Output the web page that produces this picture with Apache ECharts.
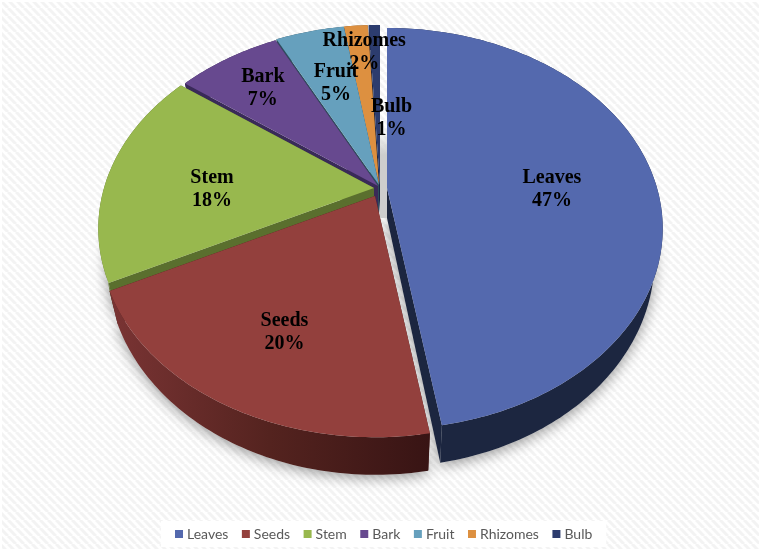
<!DOCTYPE html>
<html>
<head>
<meta charset="utf-8">
<style>
  html, body { margin: 0; padding: 0; background: #fff; }
  #main { width: 761px; height: 551px; }
</style>
<script src="https://cdn.jsdelivr.net/npm/echarts@6/dist/echarts.min.js"></script>
</head>
<body>
<div id="main"></div>
<script>
const categories = ['Leaves', 'Seeds', 'Stem', 'Bark', 'Fruit', 'Rhizomes', 'Bulb']
const seriesValues = [47.4, 20.2, 17.6, 7.4, 4.9, 1.7, 0.8]

const topColors = ['#5469ae', '#93403d', '#98b84e', '#67498f', '#66a0bd', '#dd9040', '#2c3c6e']
const cutColors = ['#1c2640', '#4a1c1c', '#5a6f2e', '#392a58', '#2f4d5c', '#7a4d1c', '#1a2444']
const wallColors = [
  ['#1c2640', '#1c2640', '#1c2640'],
  ['#7a3434', '#54231f', '#381414'],
  ['#5a6f2e', '#5a6f2e', '#5a6f2e'],
  ['#392a58', '#392a58', '#392a58'],
  ['#2f4d5c', '#2f4d5c', '#2f4d5c'],
  ['#7a4d1c', '#7a4d1c', '#7a4d1c'],
  ['#1a2444', '#1a2444', '#1a2444']
]
// where each slice's centre sits once exploded
const apexes = [[387, 188], [375, 196], [374, 188], [378, 186], [379, 185], [379, 185], [380, 185]]
// label: fraction along the bisector, then a nudge
const labelPlace = [[0.623, 0, 11], [0.612, 1, 8], [0.613, 0, 12], [0.767, 0, 0], [0.65, 2, -2], [0.85, 5, 3], [0.45, 14, 5]]
// back to front
const drawRank = [6, 5, 4, 3, 2, 1, 0]

const RX = 270
const RY = 192.4
const PERSP = 0.2024
const DEPTH = 30
const LOWER_SCALE = 0.97

const total = seriesValues.reduce((a, b) => a + b, 0)

function rimPoint (apex, angle, frac, lower) {
  const u = Math.sin(angle)
  const v = -Math.cos(angle)
  const w = 1 / (1 - PERSP * v)
  const s = lower ? LOWER_SCALE : 1
  return [
    apex[0] + RX * u * w * frac * s,
    apex[1] + RY * v * w * frac + (lower ? DEPTH * (1 + (w - 1) * frac) : 0)
  ]
}

function renderSlice (idx, api) {
  const value = api.value(0)
  let before = 0
  for (let i = 0; i < idx; i++) before += seriesValues[i]
  const a0 = before / total * Math.PI * 2
  const a1 = (before + value) / total * Math.PI * 2
  const apex = apexes[idx]
  const rank = drawRank[idx] * 10 + 10

  const upper = []
  const lower = []
  const front = []
  const steps = Math.max(4, Math.ceil((a1 - a0) / (Math.PI / 180)))
  for (let i = 0; i <= steps; i++) {
    const a = a0 + (a1 - a0) * i / steps
    const up = rimPoint(apex, a, 1, false)
    const low = rimPoint(apex, a, 1, true)
    upper.push(up)
    lower.push(low)
    // only the near half of the rim throws a shadow
    if (-Math.cos(a) > -0.15) front.push(low)
  }
  const apexLow = rimPoint(apex, 0, 0, true)
  const top = [apex].concat(upper)
  const wall = upper.concat(lower.slice().reverse())
  const cutA = [apex, upper[0], lower[0], apexLow]
  const cutB = [apex, upper[upper.length - 1], lower[lower.length - 1], apexLow]

  const mid = (a0 + a1) / 2
  const place = labelPlace[idx]
  const lp = rimPoint(apex, mid, place[0], false)

  const children = []
  if (front.length > 2) {
    children.push({
      type: 'polygon',
      z2: 1,
      shape: { points: [apexLow].concat(front) },
      style: { fill: '#d8d8d8', shadowBlur: 14, shadowColor: 'rgba(0,0,0,0.4)', shadowOffsetY: 3 }
    })
  }
  if (idx === 0) {
    // grey fall-off in the gap left by the exploded first slice
    children.push({
      type: 'polygon',
      z2: 2,
      shape: { points: [[apex[0] - 7, apex[1] - 60], [apex[0], apex[1] - 60], [apex[0], apexLow[1]], [apex[0] - 7, apexLow[1]]] },
      style: {
        fill: new echarts.graphic.LinearGradient(0, 0, 0, 1, [
          { offset: 0, color: 'rgba(205,205,205,0)' },
          { offset: 0.3, color: 'rgba(205,205,205,1)' },
          { offset: 1, color: 'rgba(205,205,205,1)' }
        ])
      }
    })
  }
  children.push(
    { type: 'polygon', z2: rank, shape: { points: cutA }, style: { fill: cutColors[idx] } },
    { type: 'polygon', z2: rank, shape: { points: cutB }, style: { fill: cutColors[idx] } },
    {
      type: 'polygon',
      z2: rank + 1,
      shape: { points: wall },
      style: {
        fill: new echarts.graphic.LinearGradient(0, 0, 1, 0, [
          { offset: 0, color: wallColors[idx][0] },
          { offset: 0.5, color: wallColors[idx][1] },
          { offset: 1, color: wallColors[idx][2] }
        ])
      }
    },
    { type: 'polygon', z2: rank + 2, shape: { points: top }, style: { fill: topColors[idx] } },
    {
      type: 'text',
      z2: 500,
      style: {
        x: lp[0] + place[1],
        y: lp[1] + place[2],
        text: categories[idx] + '\n' + Math.round(value / total * 100) + '%',
        align: 'center',
        verticalAlign: 'middle',
        fontFamily: 'Liberation Serif',
        fontWeight: 'bold',
        fontSize: 20,
        lineHeight: 23,
        fill: '#000'
      }
    }
  )
  return { type: 'group', children: children }
}

function stripes () {
  const c = document.createElement('canvas')
  c.width = 8
  c.height = 8
  const ctx = c.getContext('2d')
  ctx.fillStyle = '#ffffff'
  ctx.fillRect(0, 0, 8, 8)
  ctx.strokeStyle = '#f3f3f3'
  ctx.lineWidth = 3
  for (let i = -8; i <= 16; i += 8) {
    ctx.beginPath()
    ctx.moveTo(i, 0)
    ctx.lineTo(i + 8, 8)
    ctx.stroke()
  }
  return c
}

const chart = echarts.init(document.getElementById('main'), null, { renderer: 'canvas' })
chart.setOption({
  animation: false,
  backgroundColor: { image: stripes(), repeat: 'repeat' },
  legend: {
    data: categories,
    left: 161,
    top: 521,
    padding: [6, 14, 6, 14],
    backgroundColor: '#fff',
    itemWidth: 8,
    itemHeight: 8,
    itemGap: 13.5,
    icon: 'rect',
    selectedMode: false,
    textStyle: { fontFamily: 'Lato', fontSize: 14, color: '#595959', padding: [0, 0, 0, -1] }
  },
  graphic: [{
    type: 'rect',
    z: 100,
    silent: true,
    shape: { x: 1, y: 1, width: 759, height: 549 },
    style: { fill: 'none', stroke: '#fff', lineWidth: 2 }
  }],
  series: categories.map((name, idx) => ({
    type: 'custom',
    name: name,
    coordinateSystem: 'none',
    silent: true,
    itemStyle: { color: topColors[idx] },
    data: [[seriesValues[idx]]],
    renderItem: (params, api) => renderSlice(idx, api)
  }))
})
</script>
</body>
</html>
